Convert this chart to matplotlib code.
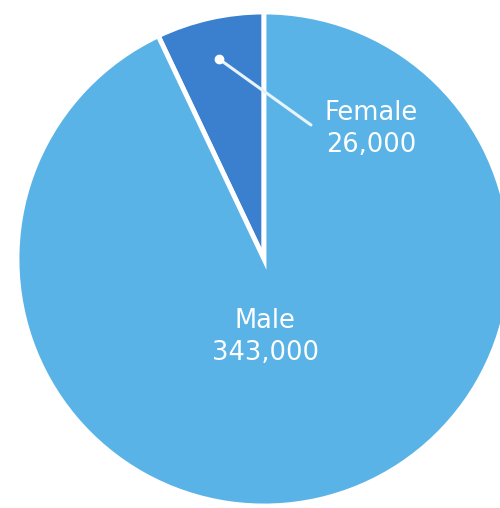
import numpy as np
import matplotlib.pyplot as plt

# Population by sex
labels = ["Female", "Male"]
values = [26000, 343000]
colors = ["#3b80cf", "#5ab3e6"]

fig = plt.figure(figsize=(5.0, 5.08), dpi=100)
ax = fig.add_axes([0, 0, 1, 1])

cx, cy, r = 264, 249, 247
wedges, _ = ax.pie(values, colors=colors, startangle=90, counterclock=True,
                   center=(cx, cy), radius=r, frame=True,
                   wedgeprops=dict(edgecolor="white", linewidth=3.5))
ax.set_xlim(0, 500)
ax.set_ylim(0, 508)
ax.set_aspect("equal")
ax.axis("off")

# Leader line for the small slice
w = wedges[0]
mid = np.deg2rad((w.theta1 + w.theta2) / 2)
dot_x = cx + 0.83 * r * np.cos(mid)
dot_y = cy + 0.83 * r * np.sin(mid)
ax.plot([dot_x, 311], [dot_y, 383], color="#e8f4fb", lw=2.2, solid_capstyle="round")
ax.plot(dot_x, dot_y, "o", color="white", markersize=6)

ax.text(371, 379, f"{labels[0]}\n{values[0]:,}", color="white", fontsize=18.5,
        ha="center", va="center", linespacing=1.3)
ax.text(265, 171, f"{labels[1]}\n{values[1]:,}", color="white", fontsize=18.5,
        ha="center", va="center", linespacing=1.3)

fig.savefig("out.png", dpi=100)
